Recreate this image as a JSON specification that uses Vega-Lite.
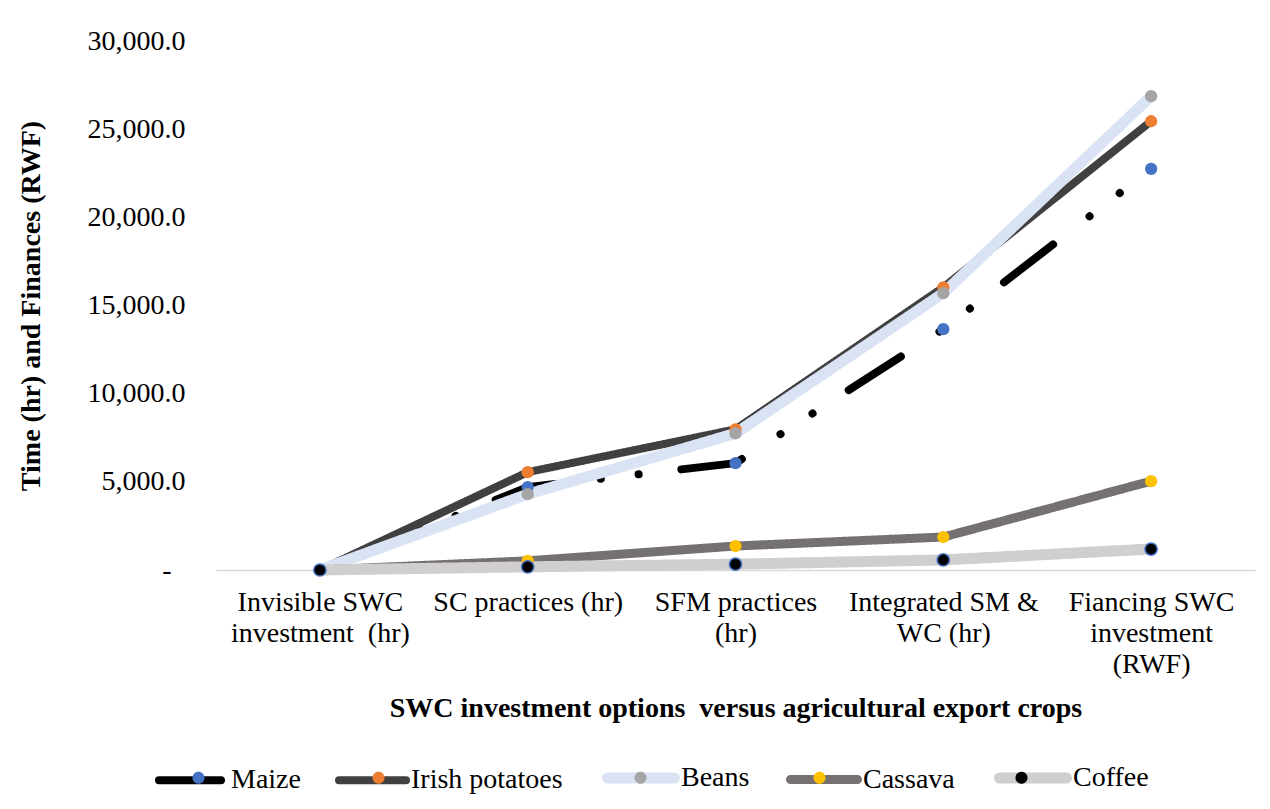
{
  "$schema": "https://vega.github.io/schema/vega-lite/v6.json",
  "width": 1039,
  "height": 529,
  "autosize": {"type": "none"},
  "padding": {"left": 216, "top": 41, "right": 15, "bottom": 239},
  "background": "white",
  "config": {
    "view": {"stroke": null},
    "font": "Liberation Serif",
    "axis": {"labelFont": "Liberation Serif", "titleFont": "Liberation Serif", "labelColor": "#000000", "titleColor": "#000000", "grid": false, "ticks": false},
    "legend": {"labelFont": "Liberation Serif", "labelColor": "#000000"}
  },
  "data": {
    "values": [
      {"option": "Invisible SWC investment (hr)", "crop": "Maize", "value": 0},
      {"option": "SC practices (hr)", "crop": "Maize", "value": 4700},
      {"option": "SFM practices (hr)", "crop": "Maize", "value": 6060},
      {"option": "Integrated SM & WC (hr)", "crop": "Maize", "value": 13660},
      {"option": "Fiancing SWC investment (RWF)", "crop": "Maize", "value": 22750},
      {"option": "Invisible SWC investment (hr)", "crop": "Irish potatoes", "value": 0},
      {"option": "SC practices (hr)", "crop": "Irish potatoes", "value": 5550},
      {"option": "SFM practices (hr)", "crop": "Irish potatoes", "value": 7980},
      {"option": "Integrated SM & WC (hr)", "crop": "Irish potatoes", "value": 16030},
      {"option": "Fiancing SWC investment (RWF)", "crop": "Irish potatoes", "value": 25450},
      {"option": "Invisible SWC investment (hr)", "crop": "Beans", "value": 0},
      {"option": "SC practices (hr)", "crop": "Beans", "value": 4300},
      {"option": "SFM practices (hr)", "crop": "Beans", "value": 7750},
      {"option": "Integrated SM & WC (hr)", "crop": "Beans", "value": 15700},
      {"option": "Fiancing SWC investment (RWF)", "crop": "Beans", "value": 26870},
      {"option": "Invisible SWC investment (hr)", "crop": "Cassava", "value": 0},
      {"option": "SC practices (hr)", "crop": "Cassava", "value": 520},
      {"option": "SFM practices (hr)", "crop": "Cassava", "value": 1360},
      {"option": "Integrated SM & WC (hr)", "crop": "Cassava", "value": 1870},
      {"option": "Fiancing SWC investment (RWF)", "crop": "Cassava", "value": 5040},
      {"option": "Invisible SWC investment (hr)", "crop": "Coffee", "value": 0},
      {"option": "SC practices (hr)", "crop": "Coffee", "value": 180},
      {"option": "SFM practices (hr)", "crop": "Coffee", "value": 330},
      {"option": "Integrated SM & WC (hr)", "crop": "Coffee", "value": 570},
      {"option": "Fiancing SWC investment (RWF)", "crop": "Coffee", "value": 1190}
    ]
  },
  "encoding": {
    "x": {
      "field": "option",
      "type": "nominal",
      "sort": ["Invisible SWC investment (hr)", "SC practices (hr)", "SFM practices (hr)", "Integrated SM & WC (hr)", "Fiancing SWC investment (RWF)"],
      "scale": {"type": "point", "padding": 0.5},
      "axis": {
        "title": "SWC investment options\u00a0 versus agricultural export crops",
        "titleFontSize": 28,
        "titleFontWeight": "bold",
        "titlePadding": 16,
        "labelAngle": 0,
        "labelFontSize": 28,
        "labelLineHeight": 31,
        "labelPadding": 18,
        "labelLimit": 0,
        "labelBaseline": "top",
        "domainColor": "#d9d9d9",
        "domainWidth": 1.5,
        "labelExpr": "datum.value == 'Invisible SWC investment (hr)' ? ['Invisible SWC', 'investment\u00a0 (hr)'] : datum.value == 'SFM practices (hr)' ? ['SFM practices', '(hr)'] : datum.value == 'Integrated SM & WC (hr)' ? ['Integrated SM &', 'WC (hr)'] : datum.value == 'Fiancing SWC investment (RWF)' ? ['Fiancing SWC', 'investment', '(RWF)'] : datum.label"
      }
    },
    "y": {
      "field": "value",
      "type": "quantitative",
      "scale": {"domain": [0, 30000], "nice": false},
      "axis": {
        "title": "Time (hr) and Finances (RWF)",
        "titleFontSize": 28,
        "titleFontWeight": "bold",
        "titlePadding": 42,
        "values": [0, 5000, 10000, 15000, 20000, 25000, 30000],
        "labelExpr": "datum.value == 0 ? '-\u00a0\u00a0\u200b' : format(datum.value, ',.1f')",
        "labelFontSize": 28,
        "labelPadding": 31,
        "domain": false
      }
    }
  },
  "layer": [
    {
      "mark": {"type": "line", "strokeCap": "round", "strokeJoin": "round"},
      "encoding": {
        "stroke": {
          "field": "crop",
          "type": "nominal",
          "scale": {"domain": ["Maize", "Irish potatoes", "Beans", "Cassava", "Coffee"], "range": ["#000000", "#404040", "#DAE3F3", "#767171", "#D0CECE"]},
          "legend": {
            "orient": "none", "legendX": -61, "legendY": 698, "direction": "horizontal", "title": null,
            "symbolType": "stroke", "symbolSize": 4489, "symbolStrokeWidth": 10,
            "labelFontSize": 28, "labelOffset": 1, "columnPadding": 22, "labelLimit": 0,
            "encode": {"symbols": {"update": {"strokeWidth": {"value": 10}, "strokeCap": {"value": "round"}}}}
          }
        },
        "strokeWidth": {
          "field": "crop", "type": "nominal",
          "scale": {"type": "ordinal", "domain": ["Maize", "Irish potatoes", "Beans", "Cassava", "Coffee"], "range": [8, 8, 11, 9, 11]},
          "legend": null
        },
        "strokeDash": {
          "field": "crop", "type": "nominal",
          "scale": {"domain": ["Maize", "Irish potatoes", "Beans", "Cassava", "Coffee"], "range": [[62, 46, 0.1, 38, 0.1, 43], [1, 0], [1, 0], [1, 0], [1, 0]]},
          "legend": null
        }
      }
    },
    {
      "mark": {"type": "circle", "size": 150, "opacity": 1},
      "encoding": {
        "fill": {
          "field": "crop",
          "type": "nominal",
          "sort": ["Maize", "Irish potatoes", "Beans", "Cassava", "Coffee"],
          "scale": {"range": ["#4472C4", "#ED7D31", "#A5A5A5", "#FFC000", "#000000"]},
          "legend": {
            "orient": "none", "legendX": -56, "legendY": 698, "direction": "horizontal", "title": null,
            "symbolType": "M-0.18,0a0.18,0.18 0 1,0 0.36,0a0.18,0.18 0 1,0 -0.36,0Z", "symbolSize": 4489, "symbolStrokeWidth": 10, "symbolStrokeColor": "transparent",
            "labelFontSize": 28, "labelOffset": 1, "columnPadding": 32, "labelLimit": 0, "labelOpacity": 0,
            "encode": {"symbols": {"update": {"strokeWidth": {"value": 10}, "stroke": {"value": "transparent"}}}}
          }
        },
        "stroke": {"condition": {"test": "datum.crop == 'Coffee'", "value": "#4472C4"}, "value": null},
        "strokeWidth": {"value": 1.5}
      }
    }
  ]
}
